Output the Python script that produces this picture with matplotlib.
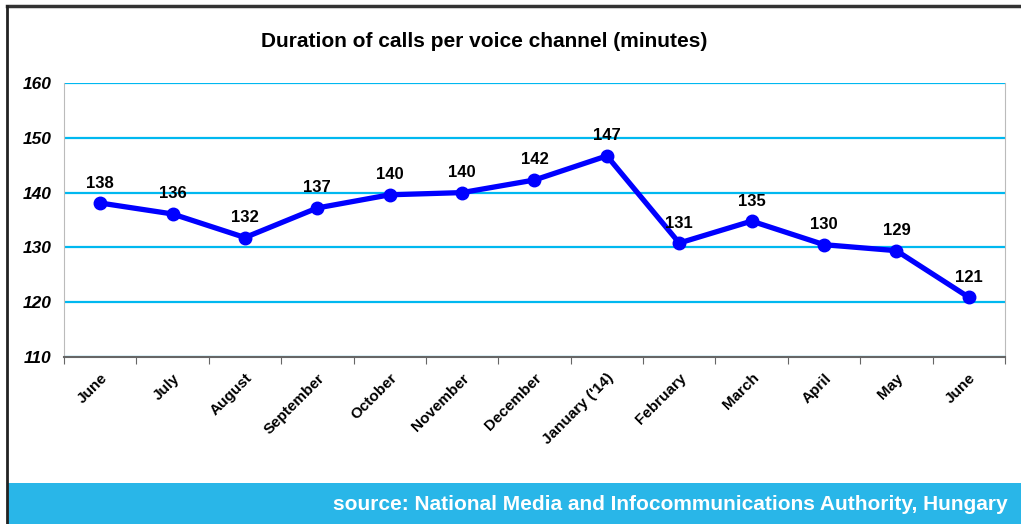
import matplotlib
matplotlib.use('Agg')
import matplotlib.pyplot as plt
from matplotlib.patches import Rectangle
from matplotlib.lines import Line2D

months = ['June', 'July', 'August', 'September', 'October', 'November', 'December',
          "January ('14)", 'February', 'March', 'April', 'May', 'June']
minutes = [138.1, 136.1, 131.8, 137.2, 139.6, 140.0, 142.3, 146.7, 130.8, 134.8, 130.5, 129.4, 120.9]
labels = ['138', '136', '132', '137', '140', '140', '142', '147', '131', '135', '130', '129', '121']
y_ticks = [110, 120, 130, 140, 150, 160]

plt.rcParams['font.family'] = ['Liberation Sans', 'DejaVu Sans']

fig = plt.figure(figsize=(10.21, 5.24), dpi=100)
ax = fig.add_axes([0.0627, 0.3187, 0.9216, 0.5229])

x = list(range(len(months)))
ax.plot(x, minutes, color='#0000FF', linewidth=3.8, marker='o', markersize=9, zorder=3)
for xi, yi, lab in zip(x, minutes, labels):
    ax.annotate(lab, (xi, yi), xytext=(0, 9), textcoords='offset points',
                ha='center', va='bottom', fontsize=12, fontweight='bold')

ax.set_xlim(-0.5, len(months) - 0.5)
ax.set_ylim(110, 160)
ax.set_yticks(y_ticks)
ax.set_yticklabels([str(t) for t in y_ticks], fontsize=12.5, fontweight='bold', style='italic')
ax.yaxis.grid(True, color='#00B8F0', linewidth=1.6)
ax.set_axisbelow(True)
ax.tick_params(axis='y', length=0, pad=9)

ax.set_xticks([i - 0.5 for i in range(len(months) + 1)], minor=False)
ax.set_xticklabels([])
ax.set_xticks(x, minor=True)
ax.set_xticklabels(months, minor=True, rotation=45, ha='right', va='top',
                   rotation_mode='anchor', fontsize=11, fontweight='bold')
ax.tick_params(axis='x', which='major', length=5, color='#666666', direction='out')
ax.tick_params(axis='x', which='minor', length=0, pad=10)

for side in ['left', 'right']:
    ax.spines[side].set_color('#BBBBBB')
ax.spines['bottom'].set_color('#666666')
ax.spines['bottom'].set_linewidth(1.5)
ax.spines['top'].set_visible(False)

fig.text(0.474, 0.921, 'Duration of calls per voice channel (minutes)', ha='center', va='center',
         fontsize=15, fontweight='bold')

# frame and source banner
fig.add_artist(Line2D([0.0064, 1.0], [0.9895, 0.9895], color='#333333', linewidth=2.5))
fig.add_artist(Line2D([0.0064, 0.0064], [0.0, 0.9895], color='#222222', linewidth=2))
fig.add_artist(Rectangle((0.008, 0.0), 0.992, 0.078, transform=fig.transFigure,
                         facecolor='#29B6E8', edgecolor='none'))
fig.text(0.987, 0.037, 'source: National Media and Infocommunications Authority, Hungary',
         ha='right', va='center', fontsize=15, fontweight='bold', color='white',
         family=['Liberation Sans Narrow', 'Liberation Sans'])

fig.savefig('out.png', dpi=100)
